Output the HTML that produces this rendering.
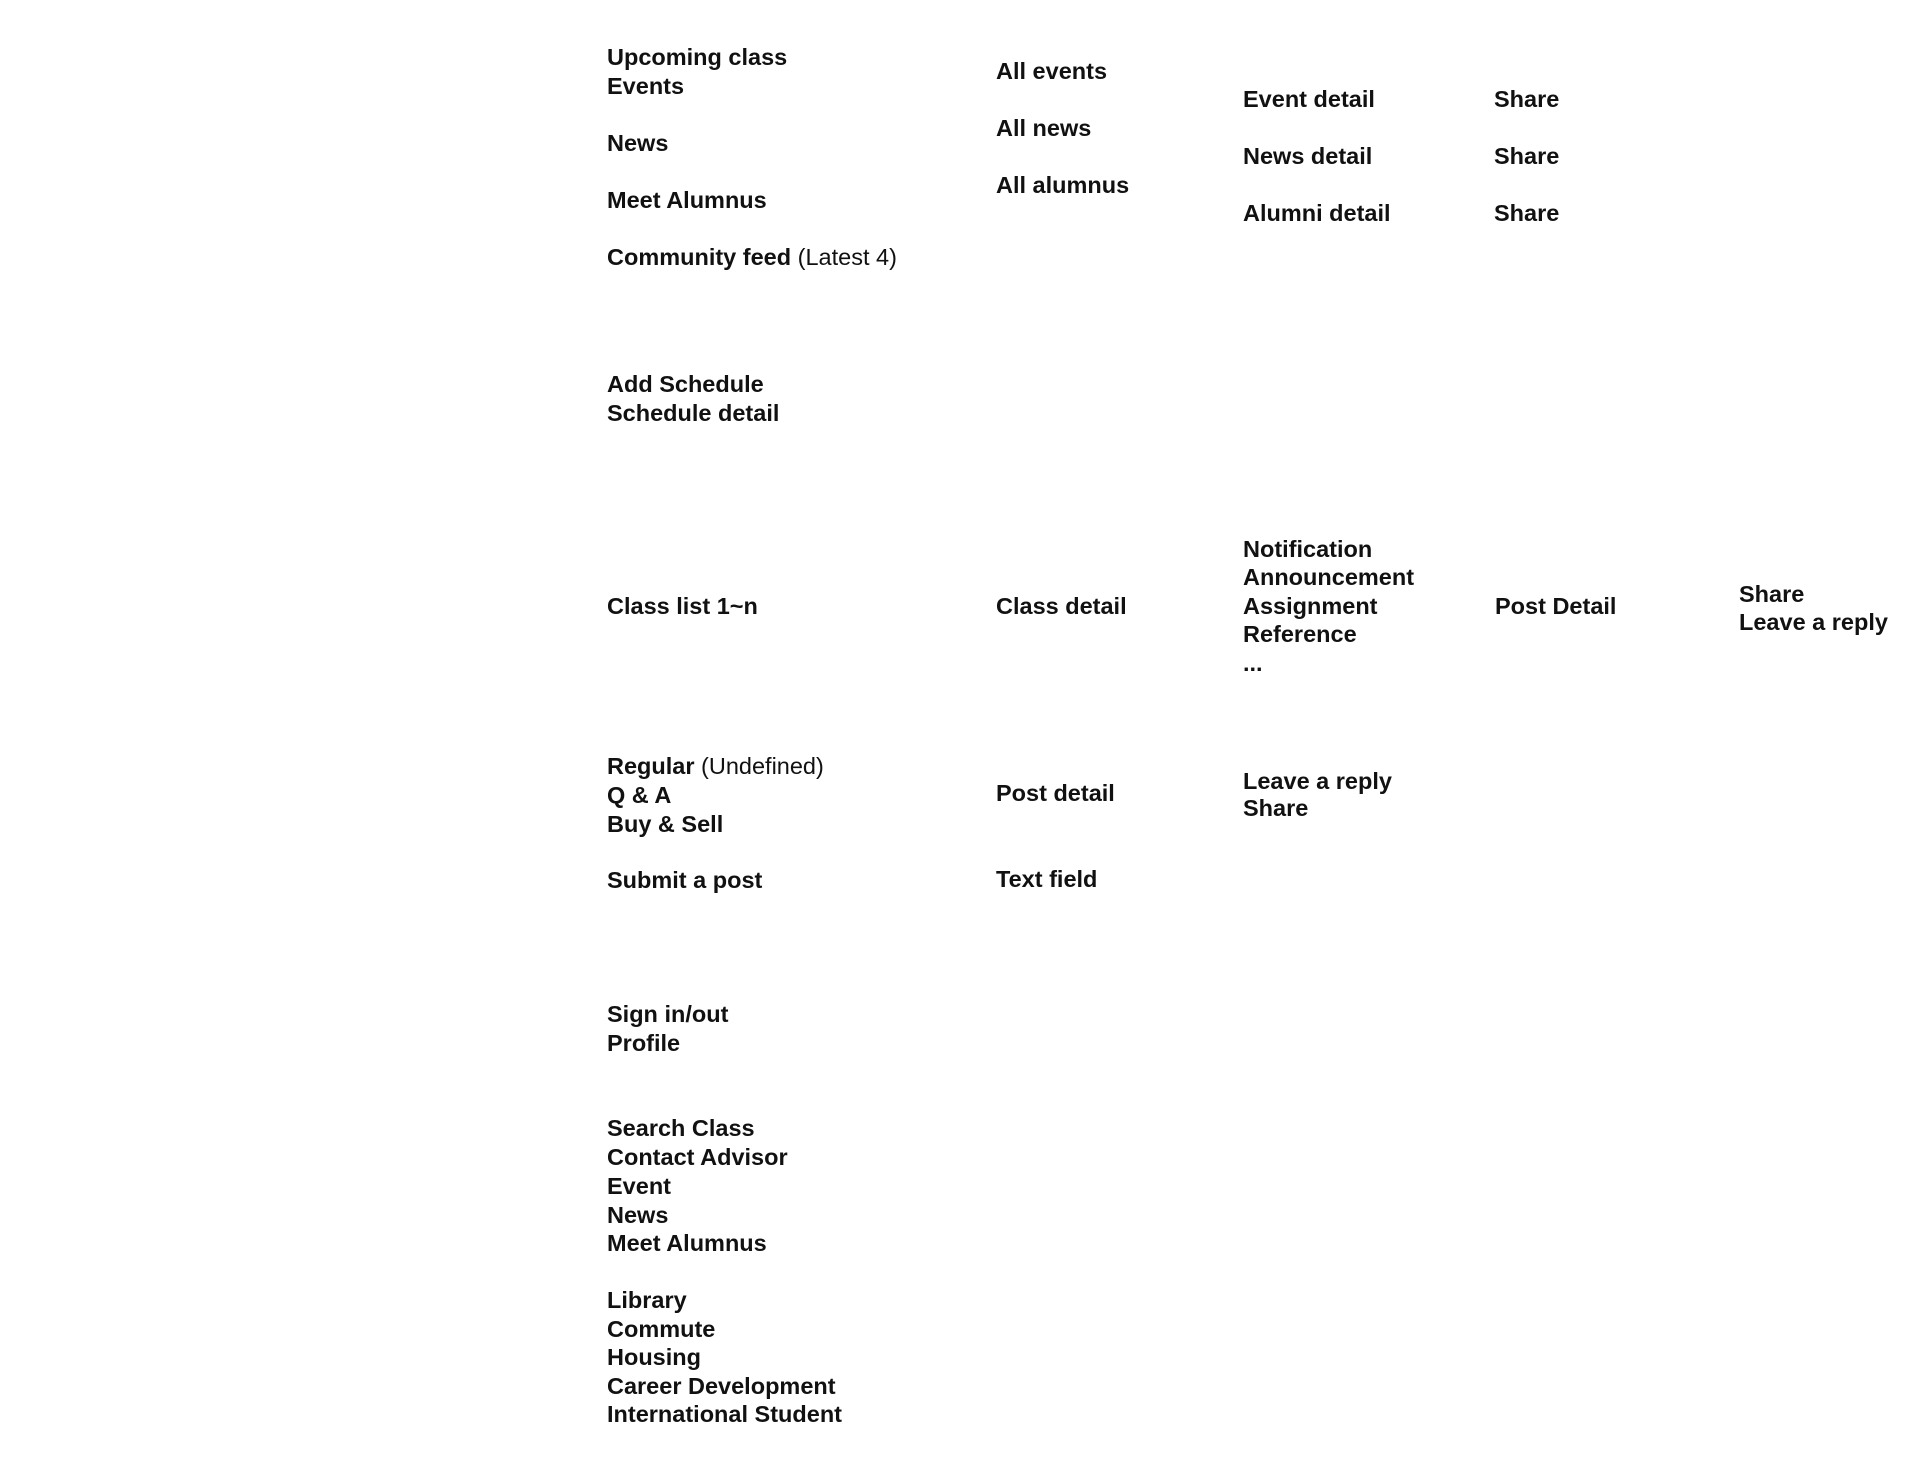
<!DOCTYPE html>
<html><head><meta charset="utf-8"><style>
body{margin:0;width:1911px;height:1469px;background:#fff;position:relative;overflow:hidden;font-family:"Liberation Sans",sans-serif;font-weight:bold;font-size:23.5px;color:#111}
div{position:absolute;white-space:nowrap;line-height:28px}
span{font-weight:normal}
</style></head><body>
<div style="left:607px;top:43px">Upcoming class</div>
<div style="left:607px;top:72px">Events</div>
<div style="left:607px;top:129px">News</div>
<div style="left:607px;top:186px">Meet Alumnus</div>
<div style="left:607px;top:243px">Community feed <span>(Latest 4)</span></div>
<div style="left:996px;top:57px">All events</div>
<div style="left:996px;top:114px">All news</div>
<div style="left:996px;top:171px">All alumnus</div>
<div style="left:1243px;top:85px">Event detail</div>
<div style="left:1243px;top:142px">News detail</div>
<div style="left:1243px;top:199px">Alumni detail</div>
<div style="left:1494px;top:85px">Share</div>
<div style="left:1494px;top:142px">Share</div>
<div style="left:1494px;top:199px">Share</div>
<div style="left:607px;top:370px">Add Schedule</div>
<div style="left:607px;top:399px">Schedule detail</div>
<div style="left:1243px;top:535px">Notification</div>
<div style="left:1243px;top:563px">Announcement</div>
<div style="left:1243px;top:592px">Assignment</div>
<div style="left:1243px;top:620px">Reference</div>
<div style="left:1243px;top:649px">...</div>
<div style="left:607px;top:592px">Class list 1~n</div>
<div style="left:996px;top:592px">Class detail</div>
<div style="left:1495px;top:592px">Post Detail</div>
<div style="left:1739px;top:580px">Share</div>
<div style="left:1739px;top:608px">Leave a reply</div>
<div style="left:607px;top:752px">Regular <span>(Undefined)</span></div>
<div style="left:607px;top:781px">Q &amp; A</div>
<div style="left:607px;top:810px">Buy &amp; Sell</div>
<div style="left:607px;top:866px">Submit a post</div>
<div style="left:996px;top:779px">Post detail</div>
<div style="left:996px;top:865px">Text field</div>
<div style="left:1243px;top:767px">Leave a reply</div>
<div style="left:1243px;top:794px">Share</div>
<div style="left:607px;top:1000px">Sign in/out</div>
<div style="left:607px;top:1029px">Profile</div>
<div style="left:607px;top:1114px">Search Class</div>
<div style="left:607px;top:1143px">Contact Advisor</div>
<div style="left:607px;top:1172px">Event</div>
<div style="left:607px;top:1201px">News</div>
<div style="left:607px;top:1229px">Meet Alumnus</div>
<div style="left:607px;top:1286px">Library</div>
<div style="left:607px;top:1315px">Commute</div>
<div style="left:607px;top:1343px">Housing</div>
<div style="left:607px;top:1372px">Career Development</div>
<div style="left:607px;top:1400px">International Student</div>
</body></html>
